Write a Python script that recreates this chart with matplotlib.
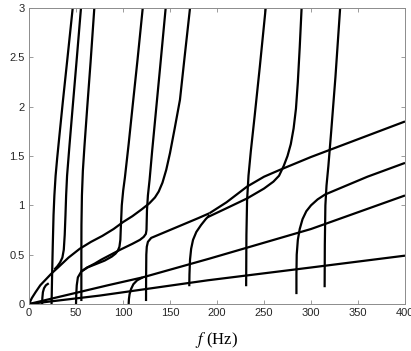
import numpy as np
import matplotlib
matplotlib.use("Agg")
import matplotlib.pyplot as plt

# dispersion branches: frequency (Hz) vs value
l1_f = [0, 75, 190, 300, 400]
l1_k = [0, 0.085, 0.24, 0.37, 0.49]

l2_f = [0, 84, 121, 192, 300, 400]
l2_k = [0, 0.19, 0.27, 0.46, 0.76, 1.1]

v105_f = [106, 106.3, 107, 108.5, 111, 115, 121]
v105_k = [0, 0.05, 0.1, 0.15, 0.2, 0.24, 0.27]

d_f = [0, 3, 7, 12, 18, 24, 32, 42, 54, 66, 78, 90, 100, 110, 120, 128,
       134, 138, 142, 146, 150, 155, 160.6, 165.5, 171.3]
d_k = [0, 0.06, 0.12, 0.19, 0.25, 0.31, 0.38, 0.47, 0.56, 0.63, 0.69, 0.76,
       0.83, 0.89, 0.96, 1.02, 1.08, 1.14, 1.23, 1.36, 1.53, 1.78, 2.07, 2.5, 3]

v24_f = [24, 24.6, 25.3, 26.1, 27, 28.3, 30, 32.5, 36, 41, 46.5]
v24_k = [0, 0.3, 0.6, 0.9, 1.1, 1.3, 1.48, 1.72, 2.05, 2.5, 3]

t2_f = [27, 30, 33, 35.5, 37, 38, 38.8, 39.5, 40.5, 43, 46.5, 50.5, 55.3]
t2_k = [0.35, 0.38, 0.42, 0.47, 0.55, 0.7, 0.9, 1.1, 1.3, 1.6, 2.0, 2.45, 3]

v55_f = [55.7, 55.7, 55.8, 56.3, 57.3, 59, 62, 65.5, 69.5]
v55_k = [0.03, 0.5, 0.8, 1.1, 1.35, 1.6, 2.0, 2.45, 3]

e_f = [50, 50.3, 50.8, 52, 55.7, 62, 70, 80.5, 88, 92, 94.5, 96.2, 97.2,
       97.8, 98.7, 100.2, 102, 106, 110.5, 115.5, 121]
e_k = [0, 0.1, 0.19, 0.27, 0.33, 0.37, 0.4, 0.44, 0.48, 0.51, 0.54, 0.58,
       0.65, 0.8, 1.0, 1.15, 1.28, 1.62, 2.03, 2.48, 3]

g_f = [55.7, 62, 70, 77, 87, 97, 110, 118, 122, 124.3, 125, 125.5, 126.5,
       128.3, 131, 134.5, 139.5, 145.4]
g_k = [0.33, 0.37, 0.41, 0.45, 0.5, 0.55, 0.61, 0.65, 0.68, 0.71, 0.75, 0.95,
       1.1, 1.26, 1.55, 1.9, 2.4, 3]

v125_f = [124.5, 124.6, 124.8, 125.3, 126.5, 130, 140, 160, 180, 192]
v125_k = [0.03, 0.3, 0.5, 0.58, 0.63, 0.67, 0.71, 0.79, 0.87, 0.92]

v170_f = [170.5, 170.7, 171.3, 172.5, 174.5, 178, 183, 188, 192]
v170_k = [0.18, 0.3, 0.45, 0.56, 0.65, 0.73, 0.8, 0.86, 0.9]

a_f = [192, 210, 232, 250, 267, 300, 350, 400]
a_k = [0.92, 1.03, 1.19, 1.29, 1.36, 1.49, 1.67, 1.85]

b_f = [190, 210, 232, 250, 260, 266, 271, 275, 278.5, 281.5, 284, 286, 288, 290]
b_k = [0.88, 0.97, 1.07, 1.17, 1.24, 1.3, 1.4, 1.5, 1.62, 1.78, 1.98, 2.25,
       2.6, 3]

v230_f = [231, 231.3, 232, 233.5, 236, 240, 245.5, 251.8]
v230_k = [0.18, 0.7, 1.05, 1.3, 1.55, 1.9, 2.4, 3]

v285_f = [284.5, 284.5, 284.8, 286, 288, 291, 295, 300, 307, 315, 330, 360, 400]
v285_k = [0.1, 0.3, 0.5, 0.65, 0.76, 0.86, 0.94, 1.0, 1.06, 1.11, 1.17, 1.29, 1.43]

v315_f = [314.5, 314.7, 315.3, 316.5, 318.5, 321.5, 326, 331]
v315_k = [0.17, 0.6, 1.0, 1.2, 1.4, 1.75, 2.3, 3]

v15_f = [14, 14.2, 14.8, 16, 18, 21]
v15_k = [0, 0.06, 0.12, 0.16, 0.19, 0.21]

branches = [
    (l1_f, l1_k), (l2_f, l2_k), (v105_f, v105_k), (d_f, d_k),
    (v24_f, v24_k), (t2_f, t2_k), (v55_f, v55_k), (e_f, e_k),
    (g_f, g_k), (v125_f, v125_k), (v170_f, v170_k), (a_f, a_k),
    (b_f, b_k), (v230_f, v230_k), (v285_f, v285_k), (v315_f, v315_k),
    (v15_f, v15_k),
]

plt.rcParams["font.family"] = ["Liberation Sans", "DejaVu Sans"]
plt.rcParams["mathtext.fontset"] = "stix"

fig = plt.figure(figsize=(4.11, 3.51), dpi=100)
ax = fig.add_axes([29 / 411, 47 / 351, 376 / 411, 296 / 351])

for f, k in branches:
    ax.plot(f, k, color="black", lw=1.6, solid_capstyle="butt",
            solid_joinstyle="round")

ax.set_xlim(0, 400)
ax.set_ylim(0, 3)
ax.set_xticks(np.arange(0, 401, 50))
ax.set_yticks([0, 0.5, 1, 1.5, 2, 2.5, 3])
ax.set_yticklabels(["0", "0.5", "1", "1.5", "2", "2.5", "3"])
ax.tick_params(direction="in", length=3, width=0.6, color="0.55",
               labelsize=8, labelcolor="0.15", top=True, right=True, pad=3)
for s in ax.spines.values():
    s.set_color("0.55")
    s.set_linewidth(0.7)

fig.text(217 / 411, 1 - 340 / 351, "$f$ (Hz)", ha="center", va="center",
         fontsize=12, family="Liberation Serif")

fig.savefig("out.png", dpi=100)
